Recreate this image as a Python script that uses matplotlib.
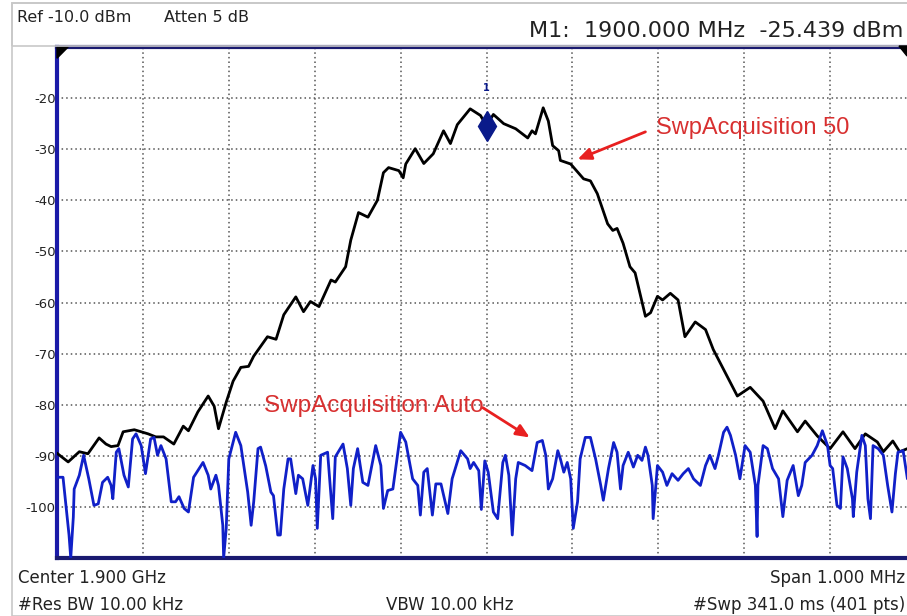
import numpy as np
import matplotlib
matplotlib.use("Agg")
import matplotlib.pyplot as plt
from matplotlib.patches import Rectangle, Polygon

plt.rcParams['font.family'] = ['DejaVu Sans']

# frequency offset from 1900 MHz centre, in kHz ; level in dBm
avg50_khz = [-500, -487, -474, -464, -451, -443, -437, -429, -423, -410, -394, -385, -376,
             -364, -353, -347, -336, -324, -317, -312, -303, -295, -286, -277, -271, -255,
             -245, -236, -222, -213, -205, -195, -181, -176, -164, -158, -149, -138, -127,
             -120, -114, -102, -97, -94, -83, -73, -62, -50, -42, -34, -19, -7, 0, 8, 20,
             34, 48, 53, 57, 66, 72, 77, 84, 86, 98, 113, 121, 129, 141, 147, 152, 159,
             167, 173, 185, 191, 199, 205, 214, 223, 231, 243, 255, 264, 280, 292, 307,
             322, 336, 345, 362, 371, 385, 400, 415, 429, 441, 455, 462, 473, 481, 490, 500]
avg50_dbm = [-89.5, -91.2, -89.2, -89.6, -86.5, -87.7, -88.2, -88.0, -85.3, -84.9, -85.7,
             -86.3, -86.3, -87.7, -84.2, -85.1, -81.4, -78.3, -80.3, -84.7, -79.5, -75.4,
             -72.7, -72.5, -70.5, -66.7, -67.2, -62.4, -58.9, -61.8, -59.8, -60.8, -55.6,
             -56.0, -53.0, -47.8, -42.4, -43.3, -40.0, -34.6, -33.6, -34.2, -35.6, -32.9,
             -29.9, -32.8, -30.9, -26.4, -28.9, -25.2, -22.1, -23.4, -25.4, -23.2, -25.0,
             -26.0, -27.8, -26.4, -27.0, -21.9, -24.5, -29.3, -30.3, -32.2, -32.9, -35.8,
             -36.2, -38.7, -44.6, -45.9, -45.5, -48.4, -53.0, -54.2, -62.7, -62.0, -58.8,
             -59.5, -58.2, -59.5, -66.7, -63.8, -65.3, -69.2, -74.4, -78.3, -76.6, -79.3,
             -84.7, -81.2, -85.3, -83.2, -86.1, -88.6, -85.3, -88.6, -85.7, -87.3, -89.2,
             -87.1, -89.2, -88.6, -89.0]

auto_khz = [-499, -493, -490, -486, -484, -481, -480, -474, -469, -463, -457, -452, -447,
            -441, -437, -435, -431, -428, -422, -417, -412, -408, -402, -397, -391, -387,
            -383, -379, -373, -367, -362, -358, -352, -347, -341, -330, -324, -321, -315,
            -312, -307, -306, -303, -300, -292, -286, -278, -274, -271, -266, -263, -257,
            -251, -248, -243, -240, -236, -231, -228, -222, -219, -214, -208, -202, -199,
            -197, -193, -185, -179, -176, -167, -162, -158, -155, -150, -144, -138, -129,
            -123, -120, -115, -109, -100, -94, -86, -80, -77, -73, -69, -63, -59, -53, -45,
            -40, -30, -22, -19, -15, -9, -6, -2, 2, 8, 13, 19, 22, 26, 30, 34, 37, 45, 53,
            59, 65, 69, 72, 77, 83, 86, 90, 94, 98, 101, 106, 109, 115, 121, 127, 133, 136,
            142, 148, 152, 156, 159, 165, 171, 176, 181, 185, 188, 193, 194, 199, 205, 210,
            216, 223, 229, 235, 241, 249, 255, 260, 266, 270, 276, 280, 284, 290, 295, 301,
            307, 313, 315, 316, 322, 327, 333, 340, 345, 350, 357, 363, 367, 371, 379, 385,
            391, 397, 400, 403, 408, 412, 415, 420, 426, 427, 431, 437, 441, 444, 447, 450,
            456, 462, 467, 472, 476, 479, 485, 490, 500]
auto_dbm = [-94.2, -94.2, -99.0, -105.5, -110.0, -102.0, -96.5, -93.8, -89.9, -94.5, -99.7,
            -99.4, -95.2, -94.2, -95.8, -98.4, -89.3, -88.6, -93.8, -96.1, -86.7, -85.7,
            -88.0, -93.5, -86.7, -86.4, -89.9, -88.0, -90.6, -99.0, -99.0, -98.0, -100.3,
            -101.0, -94.2, -91.3, -93.8, -96.5, -93.8, -95.8, -103.6, -110.0, -104.2, -90.6,
            -85.4, -88.0, -97.1, -103.6, -99.0, -88.6, -88.3, -92.0, -97.1, -97.8, -105.5,
            -105.5, -96.5, -90.6, -90.6, -97.4, -93.8, -94.5, -99.7, -91.9, -94.5, -104.2,
            -89.9, -89.3, -102.3, -90.2, -87.7, -92.5, -99.7, -92.5, -88.6, -95.2, -95.8,
            -88.0, -91.9, -100.3, -96.8, -96.5, -85.4, -87.3, -94.5, -95.8, -101.6, -93.2,
            -92.5, -101.6, -95.5, -95.5, -101.3, -94.5, -89.0, -90.6, -92.5, -91.3, -92.9,
            -100.5, -91.0, -93.2, -101.0, -102.3, -91.3, -89.9, -93.8, -105.5, -94.5, -91.3,
            -91.9, -92.9, -87.4, -87.0, -89.9, -96.5, -94.5, -89.0, -90.6, -93.2, -91.3,
            -94.5, -104.2, -99.0, -90.6, -86.4, -86.4, -90.6, -95.8, -98.7, -92.5, -87.4,
            -89.3, -96.5, -91.9, -89.3, -92.2, -89.9, -90.9, -88.3, -89.9, -95.8, -102.3,
            -91.9, -93.2, -95.8, -93.5, -94.8, -93.5, -92.5, -94.5, -95.8, -91.9, -89.9,
            -92.5, -89.9, -85.4, -84.4, -86.0, -89.9, -94.5, -88.0, -89.3, -95.8, -105.8,
            -95.8, -88.0, -88.6, -92.5, -94.5, -101.9, -94.8, -91.9, -97.8, -95.8, -91.3,
            -89.9, -88.0, -85.1, -88.0, -91.9, -92.5, -99.7, -100.3, -90.2, -92.5, -98.4,
            -101.9, -93.2, -86.0, -88.0, -98.4, -102.3, -88.0, -88.6, -89.9, -95.8, -101.0,
            -93.5, -89.3, -89.0, -94.5, -93.0]

marker_khz = 0
marker_dbm = -25.439

fig = plt.figure(figsize=(9.07, 6.16), dpi=100)

# instrument window frame + header box
fig.patches.append(Rectangle((12/907, 0), 1, 1 - 3/616, transform=fig.transFigure,
                             fill=False, edgecolor='#c8c8c8', lw=1.2))
fig.patches.append(Rectangle((12/907, 1 - 46/616), 1, 43/616, transform=fig.transFigure,
                             fill=False, edgecolor='#c8c8c8', lw=1.2))

ax = fig.add_axes([57/907, 58/616, 859/907, 511/616])
ax.plot(avg50_khz, avg50_dbm, color='black', lw=2.0, zorder=3)
ax.plot(auto_khz, auto_dbm, color='#1020c8', lw=2.0, zorder=3)
ax.plot(marker_khz, marker_dbm, marker='d', ms=15, color='#0a1a8a', zorder=4)
ax.text(marker_khz, -18.0, '1', color='#0a1a8a', fontsize=7, ha='center', va='center',
        fontweight='bold')

ax.set_xlim(-500, 500)
ax.set_ylim(-110, -10)
ax.set_xticks(np.arange(-400, 401, 100))
ax.set_yticks(np.arange(-100, -19, 10))
ax.set_xticklabels([])
ax.set_yticklabels([str(v) for v in range(-100, -19, 10)])
ax.tick_params(length=0, labelsize=9.5, pad=1, colors='#222222')
ax.grid(True, ls=(0, (1, 2)), color='#555555', lw=1.1)

ax.spines['left'].set_color('#1a1aa8')
ax.spines['left'].set_linewidth(3)
for s in ['top', 'bottom']:
    ax.spines[s].set_color('#1a1a70')
    ax.spines[s].set_linewidth(3)
ax.spines['right'].set_visible(False)

# corner flags
ax.add_patch(Polygon([[0, 1], [0.013, 1], [0, 0.978]], closed=True, transform=ax.transAxes,
                     color='black', clip_on=False, zorder=5))
fig.patches.append(Polygon([[1, 1 - 46/616], [1 - 8/907, 1 - 46/616], [1, 1 - 56/616]],
                           closed=True, transform=fig.transFigure, color='black'))

red = '#d83030'
ax.annotate('', xy=(103, -32.2), xytext=(188, -26.4),
            arrowprops=dict(arrowstyle='-|>,head_length=0.8,head_width=0.35', color='#e82020', lw=2))
ax.text(197, -25.8, 'SwpAcquisition 50', color=red, fontsize=17, ha='left', va='center',
        family='Liberation Sans')
ax.annotate('', xy=(53, -86.7), xytext=(-7, -80.3),
            arrowprops=dict(arrowstyle='-|>,head_length=0.8,head_width=0.35', color='#e82020', lw=2))
ax.text(-3, -80.3, 'SwpAcquisition Auto', color=red, fontsize=17.5, ha='right', va='center',
        family='Liberation Sans')

# header / footer readouts
fig.text(17/907, 1 - 18/616, 'Ref -10.0 dBm', fontsize=11.5, va='center', color='#222222')
fig.text(164/907, 1 - 18/616, 'Atten 5 dB', fontsize=11.5, va='center', color='#222222')
fig.text(903/907, 1 - 31/616, 'M1:  1900.000 MHz  -25.439 dBm', fontsize=16, ha='right',
         va='center', color='#222222')
fig.text(18/907, 1 - 578/616, 'Center 1.900 GHz', fontsize=12, va='center', color='#222222')
fig.text(905/907, 1 - 578/616, 'Span 1.000 MHz', fontsize=12, va='center', ha='right',
         color='#222222')
fig.text(18/907, 1 - 605/616, '#Res BW 10.00 kHz', fontsize=12, va='center', color='#222222')
fig.text(450/907, 1 - 605/616, 'VBW 10.00 kHz', fontsize=12, va='center', ha='center',
         color='#222222')
fig.text(905/907, 1 - 605/616, '#Swp 341.0 ms (401 pts)', fontsize=12, va='center', ha='right',
         color='#222222')

fig.savefig('out.png', dpi=100)
